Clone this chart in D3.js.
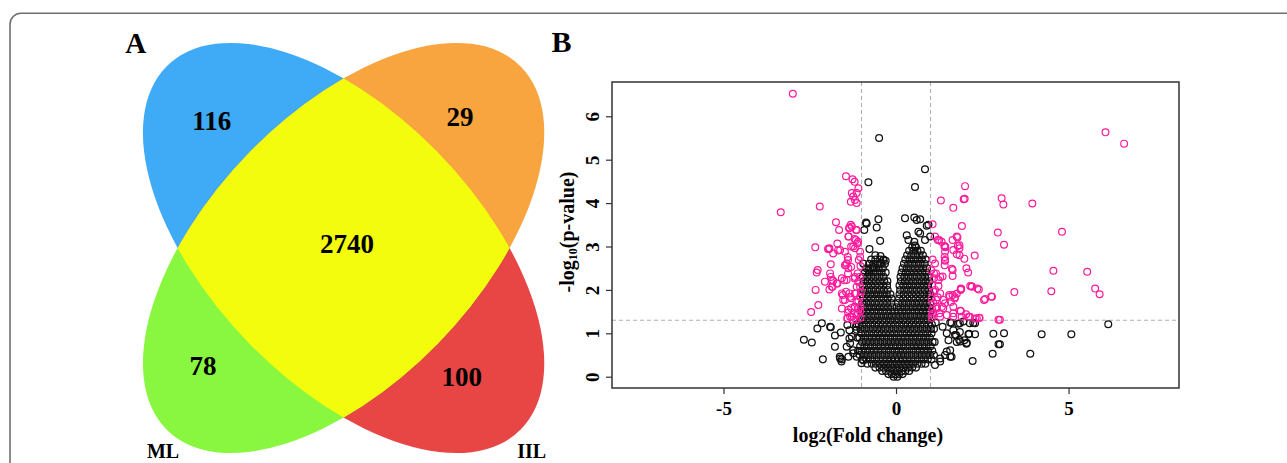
<!DOCTYPE html>
<html>
<head>
<meta charset="utf-8">
<script src="https://cdn.jsdelivr.net/npm/d3@7"></script>
<style>
  html, body { margin: 0; padding: 0; background: #fff; }
  svg { display: block; }
  text { font-family: "Liberation Serif", "Times New Roman", serif; font-weight: bold; }
</style>
</head>
<body>
<div id="chart"></div>
<script>
// ---- data ----
// venn panel (A)
const vennSets = ["ML", "IIL"];
const vennCounts = [116, 29, 2740, 78, 100];   // TL, TR, centre, BL, BR

// volcano panel (B)
const xTicks = [-5, 0, 5];
const yTicks = [0, 1, 2, 3, 4, 5, 6];
const fcCut = [-1, 1];
const pCut = 1.3;

// significant proteins [log2FC, -log10 p]
const sigPoints = [
  [-2.99,6.52],[-3.34,3.79],[-2.21,3.92],
  [-1.45,4.62],[-1.26,4.55],[-1.20,4.49],[-1.09,4.34],[-1.24,4.15],[-1.19,4.07],[-1.14,4.0],[-1.31,4.03],[-1.28,4.23],[-1.14,4.23],
  [-1.74,3.56],[-1.65,3.38],[-1.35,3.44],[-1.31,3.50],[-1.14,3.38],[-1.37,3.23],[-1.20,3.17],[-1.12,3.07],[-1.19,2.96],[-1.04,2.76],[-1.30,3.0],
  [-2.34,2.98],[-1.94,2.94],[-1.62,2.92],[-1.70,3.07],[-1.40,2.76],[-1.43,2.61],[-1.48,2.57],[-1.38,2.50],[-1.89,2.59],[-2.27,2.46],
  [-1.89,2.30],[-1.82,2.21],[-1.72,2.15],[-1.86,2.07],[-1.57,2.27],[-1.43,2.23],[-1.19,2.30],[-1.09,2.19],[-1.14,2.07],
  [-2.33,2.0],[-1.57,1.92],[-1.45,1.96],[-1.33,1.84],[-1.19,1.92],[-1.04,1.84],[-1.53,1.77],[-1.14,1.73],
  [-2.25,1.65],[-2.46,1.49],[-1.57,1.57],[-1.38,1.54],[-1.19,1.61],[-1.09,1.58],[-1.33,1.38],[-1.14,1.42],[-1.41,1.35],[-1.24,1.31],
  [-1.93,2.96],[-1.82,2.84],[-2.06,2.19],[-2.30,2.40],
  [-1.36,3.42],[-1.28,3.46],[-1.16,3.38],[-1.38,3.23],[-1.16,3.15],[-1.24,3.0],[-1.10,3.11],[-1.04,2.88],[-1.48,2.88],
  [-1.39,2.69],[-1.45,2.57],[-1.30,2.53],[-1.08,2.69],[-1.39,2.38],[-1.20,2.26],[-1.11,2.38],[-1.50,2.22],[-1.04,2.07],
  [-1.91,2.38],[-1.86,2.22],[-1.84,2.07],[-1.70,2.15],[-1.93,2.01],
  [-1.54,1.88],[-1.35,1.92],[-1.48,1.77],[-1.30,1.81],[-1.16,1.92],[-1.09,1.73],[-1.20,1.61],[-1.03,1.61],[-1.30,1.58],[-1.39,1.48],
  [-1.10,1.46],[-1.04,1.50],[-1.41,1.34],[-1.16,1.31],[-1.28,1.38],[-1.97,2.94],[-1.68,2.91],
  [-1.03,1.36],[-1.02,1.95],[-1.05,2.3],[-1.03,2.55],
  [6.07,5.63],[6.61,5.37],[3.95,3.99],[3.06,4.11],[3.11,3.97],[4.81,3.34],[2.95,3.32],[3.13,3.04],[4.56,2.44],[5.54,2.42],
  [5.77,2.03],[5.90,1.90],[3.43,1.95],[4.50,1.97],[3.01,1.31],
  [2.0,4.39],[1.30,4.06],[1.96,4.09],[1.99,4.10],[1.66,3.89],
  [1.06,3.51],[1.91,3.47],[1.13,3.23],[1.25,3.15],[1.64,3.15],[1.78,3.21],
  [1.40,3.01],[1.43,2.98],[1.42,2.88],[1.41,2.76],[1.42,2.69],[1.41,2.57],
  [1.79,3.01],[1.84,2.96],[1.76,2.82],[1.84,2.80],[1.98,2.72],[2.28,2.79],[2.04,2.50],[2.09,2.40],[1.62,2.49],[1.64,2.32],
  [1.13,2.61],[1.16,2.38],[1.28,2.30],[1.10,2.27],[1.23,2.09],[1.08,1.96],[1.28,1.92],[1.89,2.02],
  [2.15,2.09],[2.20,2.08],[2.36,2.03],[2.40,2.01],[2.76,1.85],[2.55,1.77],
  [1.64,1.88],[1.76,1.91],[1.55,1.84],[1.70,1.80],[1.42,1.69],[1.59,1.72],[1.66,1.61],[1.33,1.61],[1.16,1.77],[1.18,1.57],[1.08,1.69],[1.26,1.46],
  [1.86,1.52],[2.03,1.44],[2.14,1.38],[2.29,1.34],[2.42,1.35],[1.47,1.42],[1.66,1.38],[2.41,1.36],[1.88,1.51],[1.88,2.03],
  [1.76,3.23],[1.84,3.03],[1.66,2.92],[1.42,3.0],[1.32,3.11],[1.21,3.15],[1.42,2.67],[1.64,2.46],[1.35,2.31],[1.10,2.38],
  [1.23,2.23],[1.13,2.0],[1.21,1.83],[1.37,1.77],[1.54,1.88],[1.71,1.83],[1.87,2.0],[2.19,2.08],[2.58,1.79],[2.78,1.84],
  [2.97,1.31],[2.34,1.34],[2.10,1.38],[1.90,1.38],[1.66,1.46],[1.28,1.38],[1.08,1.46],[1.18,1.61],[1.37,1.58],
  [1.04,1.35],[1.05,1.55],[1.03,1.8],[1.05,2.1],[1.02,2.45],[1.06,2.7],[1.04,1.42]
];

// non-significant proteins away from the dense core
const nsPoints = [
  [-0.49,5.50],[-0.80,4.48],[0.84,4.78],[0.55,4.37],
  [-0.87,3.55],[-0.51,3.63],[-0.56,3.44],[-0.46,3.13],[-0.77,2.94],[-0.92,3.38],[-0.85,3.53],
  [0.26,3.65],[0.53,3.67],[0.60,3.61],[0.70,3.63],[0.94,3.50],[0.65,3.34],[0.36,3.15],[0.99,3.23],[0.89,3.48],
  [0.70,3.30],[0.53,3.11],[0.31,3.26],[0.84,3.15],
  [-0.95,2.61],[-0.80,2.46],[-0.66,2.53],[-0.37,2.69],[-0.30,2.67],[-0.46,2.61],[-0.6,2.8],[-0.45,2.78],[0.55,3.02],
  [6.15,1.21],[3.13,1.0],[4.22,0.98],[5.08,0.98],[3.01,0.75],[3.89,0.53],[2.80,0.53],[2.22,0.36],
  [2.29,1.23],[2.05,0.78],[1.83,0.85],[1.57,0.46],[1.47,0.58],[1.28,0.42],[1.13,0.27],[2.29,0.98],[2.10,0.98],[1.71,0.96],
  [1.47,1.0],[1.57,1.25],[1.80,1.22],[1.35,1.15],[2.24,1.24],[1.85,1.23],[1.61,1.24],[2.82,0.99],[2.97,0.75],[2.12,0.99],
  [1.98,0.84],[1.74,0.96],[1.86,0.81],[1.95,1.27],[2.14,1.23],[1.66,1.07],[1.85,1.03],[2.04,0.76],[1.52,0.84],[1.76,0.80],
  [1.57,0.61],[1.42,0.50],[1.61,0.46],[1.28,0.35],
  [-2.15,1.23],[-2.28,1.11],[-2.67,0.85],[-2.44,0.79],[-2.12,0.40],[-1.89,1.14],[-1.77,0.95],[-1.60,1.02],[-1.57,0.40],
  [-1.62,0.42],[-1.35,0.88],[-1.77,0.69],[-1.41,1.19],[-1.14,1.21],[-1.38,0.46],[-1.24,0.61],[-1.33,0.77],
  [-1.91,1.15],[-1.43,0.69],[-1.28,0.92],[-1.14,1.08],[-0.95,0.38],[-1.0,0.31],[-1.63,0.46],[-1.58,0.35],
  [-1.24,0.54],[-1.35,1.07],[-1.16,1.15],[-1.14,0.46],
  [-1.1,0.6],[-1.12,0.9],[-1.08,1.2],[1.1,0.5],[1.12,0.8],[1.1,1.1],[1.15,1.25]
];

// dense core, read row by row: [-log10 p, [log2FC ...]]
const coreRows = [
  [0.00, [-0.07, 0.04]],
  [0.06, [-0.22, -0.12, -0.02, 0.09, 0.19]],
  [0.13, [-0.4, -0.29, -0.17, -0.06, 0.05, 0.16, 0.27, 0.38]],
  [0.21, [-0.6, -0.48, -0.36, -0.24, -0.12, 0.0, 0.11, 0.23, 0.35, 0.47, 0.58]],
  [0.30, [-0.83, -0.7, -0.58, -0.46, -0.34, -0.22, -0.1, 0.02, 0.14, 0.26, 0.38, 0.5, 0.62, 0.74, 0.85]],
  [0.40, [-0.98, -0.86, -0.74, -0.62, -0.5, -0.38, -0.26, -0.14, -0.03, 0.08, 0.2, 0.32, 0.44, 0.56, 0.68, 0.8, 0.92, 1.03]],
  [0.50, [-1.05, -0.93, -0.81, -0.69, -0.57, -0.45, -0.33, -0.21, -0.09, 0.03, 0.15, 0.27, 0.39, 0.51, 0.63, 0.75, 0.87, 0.99]],
  [0.60, [-1.0, -0.88, -0.76, -0.64, -0.52, -0.4, -0.28, -0.16, -0.04, 0.08, 0.2, 0.32, 0.45, 0.57, 0.69, 0.81, 0.93, 1.05]],
  [0.70, [-1.04, -0.92, -0.8, -0.68, -0.56, -0.44, -0.32, -0.2, -0.08, 0.04, 0.16, 0.28, 0.4, 0.52, 0.64, 0.76, 0.88, 1.0]],
  [0.80, [-0.99, -0.87, -0.75, -0.63, -0.51, -0.39, -0.27, -0.15, -0.03, 0.09, 0.21, 0.33, 0.46, 0.58, 0.7, 0.82, 0.94, 1.06]],
  [0.90, [-1.06, -0.94, -0.82, -0.7, -0.58, -0.46, -0.34, -0.22, -0.1, 0.02, 0.14, 0.26, 0.38, 0.5, 0.62, 0.74, 0.86, 0.98]],
  [1.00, [-1.01, -0.89, -0.77, -0.65, -0.53, -0.41, -0.29, -0.17, -0.05, 0.07, 0.19, 0.31, 0.43, 0.55, 0.67, 0.79, 0.91, 1.03]],
  [1.10, [-1.03, -0.91, -0.79, -0.67, -0.55, -0.43, -0.31, -0.19, -0.07, 0.05, 0.17, 0.29, 0.41, 0.53, 0.65, 0.77, 0.89, 1.01]],
  [1.20, [-0.98, -0.86, -0.74, -0.62, -0.5, -0.38, -0.26, -0.14, -0.02, 0.1, 0.22, 0.34, 0.46, 0.58, 0.7, 0.82, 0.94, 1.04]],
  [1.30, [-1.0, -0.88, -0.76, -0.64, -0.52, -0.4, -0.28, -0.16, -0.04, 0.08, 0.2, 0.32, 0.44, 0.56, 0.68, 0.8, 0.92]],
  [1.40, [-0.96, -0.84, -0.72, -0.6, -0.48, -0.36, -0.24, -0.12, 0.0, 0.12, 0.24, 0.36, 0.48, 0.6, 0.72, 0.84, 0.96]],
  [1.50, [-0.99, -0.87, -0.75, -0.63, -0.51, -0.39, -0.27, -0.15, -0.04, 0.07, 0.18, 0.3, 0.42, 0.54, 0.66, 0.78, 0.9, 0.99]],
  [1.60, [-0.95, -0.83, -0.71, -0.59, -0.47, -0.35, -0.23, -0.11, 0.02, 0.13, 0.25, 0.37, 0.49, 0.61, 0.73, 0.85, 0.96]],
  [1.70, [-0.98, -0.86, -0.74, -0.62, -0.5, -0.38, -0.26, -0.14, 0.06, 0.18, 0.3, 0.42, 0.54, 0.66, 0.78, 0.9, 0.99]],
  [1.80, [-0.96, -0.84, -0.72, -0.6, -0.48, -0.36, -0.24, -0.13, 0.09, 0.21, 0.33, 0.45, 0.57, 0.69, 0.81, 0.93]],
  [1.90, [-0.99, -0.87, -0.75, -0.63, -0.51, -0.39, -0.27, -0.16, 0.1, 0.22, 0.34, 0.46, 0.58, 0.7, 0.82, 0.94, 0.99]],
  [2.00, [-0.95, -0.83, -0.71, -0.59, -0.47, -0.35, -0.24, 0.12, 0.24, 0.36, 0.48, 0.6, 0.72, 0.84, 0.96]],
  [2.10, [-0.97, -0.85, -0.73, -0.61, -0.49, -0.37, -0.26, 0.1, 0.21, 0.33, 0.45, 0.57, 0.69, 0.81, 0.93]],
  [2.20, [-0.94, -0.82, -0.7, -0.58, -0.46, -0.34, -0.25, 0.14, 0.26, 0.38, 0.5, 0.62, 0.74, 0.86, 0.97]],
  [2.30, [-0.96, -0.84, -0.72, -0.6, -0.48, -0.36, 0.13, 0.24, 0.36, 0.48, 0.6, 0.72, 0.84, 0.95]],
  [2.40, [-0.9, -0.78, -0.66, -0.54, -0.42, -0.3, 0.16, 0.28, 0.4, 0.52, 0.64, 0.76, 0.88]],
  [2.50, [-0.86, -0.74, -0.62, -0.5, -0.38, 0.19, 0.31, 0.43, 0.55, 0.67, 0.79, 0.9]],
  [2.60, [-0.78, -0.66, -0.54, -0.42, -0.32, 0.23, 0.35, 0.47, 0.59, 0.71, 0.83]],
  [2.70, [-0.72, -0.6, -0.46, -0.36, 0.27, 0.39, 0.51, 0.63, 0.75, 0.86]],
  [2.80, [0.32, 0.44, 0.56, 0.68, 0.78]],
  [2.90, [0.38, 0.5, 0.62, 0.72]],
  [2.98, [0.47, 0.58]]
];

// ---- page ----
const W = 1287, H = 463;
const svg = d3.select("#chart").append("svg")
  .attr("width", W)
  .attr("height", H);

// outer panel frame (runs off the bottom / right of the crop)
svg.append("rect")
  .attr("x", 10).attr("y", 13.3)
  .attr("width", 1400).attr("height", 600)
  .attr("rx", 11)
  .attr("fill", "none")
  .attr("stroke", "#707070")
  .attr("stroke-width", 1.6);

// ---- A: venn ----
const venn = {cx: 343.6, cy: 248, a: 250.8, b: 132.8, sy: 1.022};
const defs = svg.append("defs");

defs.append("clipPath").attr("id", "topHalf")
  .append("rect").attr("x", 0).attr("y", 0).attr("width", 640).attr("height", venn.cy);
defs.append("clipPath").attr("id", "bottomHalf")
  .append("rect").attr("x", 0).attr("y", venn.cy).attr("width", 640).attr("height", 300);
defs.append("clipPath").attr("id", "ellB")
  .append("ellipse")
  .attr("transform", `translate(${venn.cx},${venn.cy}) scale(1,${venn.sy}) rotate(-45)`)
  .attr("rx", venn.a).attr("ry", venn.b);

function petal(g, angle, fill) {
  g.append("ellipse")
    .attr("transform", `translate(${venn.cx},${venn.cy}) scale(1,${venn.sy}) rotate(${angle})`)
    .attr("rx", venn.a).attr("ry", venn.b)
    .attr("fill", fill);
}

const vg = svg.append("g");
petal(vg.append("g").attr("clip-path", "url(#topHalf)"), 45, "#3faaf6");
petal(vg.append("g").attr("clip-path", "url(#bottomHalf)"), 45, "#e84545");
petal(vg.append("g").attr("clip-path", "url(#topHalf)"), -45, "#f8a540");
petal(vg.append("g").attr("clip-path", "url(#bottomHalf)"), -45, "#89f740");
petal(vg.append("g").attr("clip-path", "url(#ellB)"), 45, "#f2fc0c");

const countPos = [[211.8, 129.8], [460, 125.8], [347.1, 253.4], [202.9, 374.8], [461.8, 386.4]];
vg.selectAll("text.count")
  .data(vennCounts)
  .join("text")
  .attr("class", "count")
  .attr("x", (d, i) => countPos[i][0])
  .attr("y", (d, i) => countPos[i][1])
  .attr("text-anchor", "middle")
  .attr("font-size", 27)
  .text(d => d);

const setPos = [[163, 458], [531.7, 458]];
vg.selectAll("text.set")
  .data(vennSets)
  .join("text")
  .attr("class", "set")
  .attr("x", (d, i) => setPos[i][0])
  .attr("y", (d, i) => setPos[i][1])
  .attr("text-anchor", "middle")
  .attr("font-size", 20)
  .text(d => d);

svg.append("text").attr("x", 135.7).attr("y", 52.5)
  .attr("text-anchor", "middle").attr("font-size", 29).text("A");
svg.append("text").attr("x", 551.5).attr("y", 52.3)
  .attr("font-size", 30).text("B");

// ---- B: volcano ----
const plot = {left: 612, right: 1179, top: 82, bottom: 388};
const x = d3.scaleLinear().domain([-8.23, 8.2]).range([plot.left, plot.right]);
const y = d3.scaleLinear().domain([-0.26, 6.79]).range([plot.bottom, plot.top]);

const pg = svg.append("g");

// threshold lines
pg.selectAll("line.vcut")
  .data(fcCut)
  .join("line")
  .attr("x1", d => x(d)).attr("x2", d => x(d))
  .attr("y1", plot.top).attr("y2", plot.bottom)
  .attr("stroke", "#b0b0b0").attr("stroke-width", 1.1)
  .attr("stroke-dasharray", "4,3");
pg.append("line")
  .attr("x1", plot.left).attr("x2", plot.right)
  .attr("y1", y(pCut)).attr("y2", y(pCut))
  .attr("stroke", "#b0b0b0").attr("stroke-width", 1.1)
  .attr("stroke-dasharray", "4,3");

const corePoints = coreRows.flatMap(([py, xs]) => xs.map(px => [px, py]));
const ring = 3.4;

pg.append("g").selectAll("circle")
  .data(corePoints.concat(nsPoints))
  .join("circle")
  .attr("cx", d => x(d[0]))
  .attr("cy", d => y(d[1]))
  .attr("r", ring)
  .attr("fill", "none")
  .attr("stroke", "#111")
  .attr("stroke-width", 1.25);

pg.append("g").selectAll("circle")
  .data(sigPoints)
  .join("circle")
  .attr("cx", d => x(d[0]))
  .attr("cy", d => y(d[1]))
  .attr("r", ring)
  .attr("fill", "none")
  .attr("stroke", "#ff1a9c")
  .attr("stroke-width", 1.2);

// box
pg.append("rect")
  .attr("x", plot.left).attr("y", plot.top)
  .attr("width", plot.right - plot.left).attr("height", plot.bottom - plot.top)
  .attr("fill", "none").attr("stroke", "#333").attr("stroke-width", 1.5);

// axes
const xAxis = pg.append("g")
  .attr("transform", `translate(0,${plot.bottom})`)
  .call(d3.axisBottom(x).tickValues(xTicks).tickSize(6).tickFormat(d3.format("d")));
xAxis.select(".domain").remove();
xAxis.selectAll("line").attr("stroke", "#333").attr("stroke-width", 1.2);
xAxis.selectAll("text")
  .attr("y", 14)
  .attr("font-size", 19)
  .attr("font-family", "Liberation Serif, serif")
  .attr("font-weight", "bold")
  .attr("fill", "#000")
  .text(d => d < 0 ? "-" + Math.abs(d) : d);

const yAxis = pg.append("g")
  .attr("transform", `translate(${plot.left},0)`)
  .call(d3.axisLeft(y).tickValues(yTicks).tickSize(6).tickFormat(d3.format("d")));
yAxis.select(".domain").remove();
yAxis.selectAll("line").attr("stroke", "#333").attr("stroke-width", 1.2);
yAxis.selectAll("text")
  .attr("transform", "rotate(-90)")
  .attr("x", 0).attr("y", -13).attr("dy", 0)
  .attr("text-anchor", "middle")
  .attr("font-size", 19)
  .attr("font-family", "Liberation Serif, serif")
  .attr("font-weight", "bold")
  .attr("fill", "#000");

// axis titles
const yTitle = svg.append("text")
  .attr("transform", "translate(574,232) rotate(-90)")
  .attr("text-anchor", "middle")
  .attr("font-size", 20);
yTitle.append("tspan").text("-log");
yTitle.append("tspan").attr("font-size", 12).attr("dy", 3).text("10");
yTitle.append("tspan").attr("dy", -3).text("(p-value)");

const xTitle = svg.append("text")
  .attr("x", 868).attr("y", 442)
  .attr("text-anchor", "middle")
  .attr("font-size", 20);
xTitle.append("tspan").text("log");
xTitle.append("tspan").attr("font-size", 15).text("2");
xTitle.append("tspan").text("(Fold change)");
</script>
</body>
</html>
